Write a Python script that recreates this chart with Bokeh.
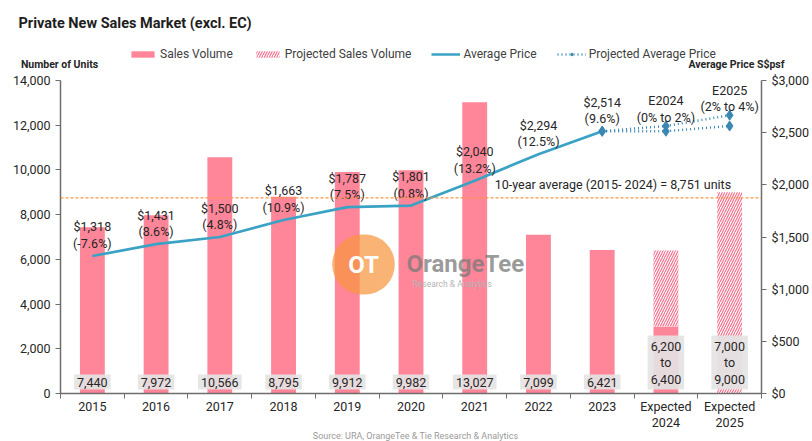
from bokeh.plotting import figure
from bokeh.layouts import column
from bokeh.models import (Range1d, LinearAxis, FixedTicker, SingleIntervalTicker,
                          NumeralTickFormatter, ColumnDataSource, Label, Span,
                          Legend, LegendItem)
from bokeh.core.properties import value
from bokeh.embed import file_html
from bokeh.resources import INLINE

# ---------------- data ----------------
categories = ["2015", "2016", "2017", "2018", "2019", "2020", "2021", "2022",
              "2023", "Expected\n2024", "Expected\n2025"]
sales_volume = [7440, 7972, 10566, 8795, 9912, 9982, 13027, 7099, 6421, 3000]  # 2024 = YTD actual (est.)
projected_low = [6200, 7000]
projected_high = [6400, 9000]
avg_price = [1318, 1431, 1500, 1663, 1787, 1801, 2040, 2294, 2514]
price_change = ["-7.6%", "8.6%", "4.8%", "10.9%", "7.5%", "0.8%", "13.2%", "12.5%", "9.6%"]
proj_price_low = [2514, 2514, 2564]
proj_price_high = [2514, 2564, 2667]
proj_names = ["E2024", "E2025"]
proj_growth = ["0% to 2%", "2% to 4%"]
ten_year_avg = 8751
vol_max = 14000
price_max = 3000
source_note = "Source: URA, OrangeTee & Tie Research & Analytics"

FONT = "Roboto"
BAR = "#ff8599"
HATCH = "#f56f8c"
LINE = "#3aa2c4"
PROJ = "#3a87b3"
TXT = "#262626"
AX = "#6e6e6e"
W = 812
NAN = float("nan")

xs = list(range(len(categories)))
n_act = len(avg_price)
proj_x = xs[len(categories) - len(projected_high):]
px = xs[n_act - 1:]


def blank(height):
    f = figure(width=W, height=height, output_backend="svg", toolbar_location=None,
               x_range=Range1d(0, W), y_range=Range1d(height, 0),
               x_axis_type=None, y_axis_type=None, min_border=0,
               outline_line_color=None, background_fill_alpha=0,
               border_fill_alpha=0)
    f.grid.visible = False
    f.frame_align = False
    return f


# ================= header: title, legend, axis titles =================
HEAD_H = 72
head = blank(HEAD_H)
head.add_layout(Label(x=18, y=23, text="Private New Sales Market (excl. EC)",
                      text_font=FONT, text_font_size="14.5px", text_font_style="bold",
                      text_color="#1e1e1e", text_baseline="middle"))
head.add_layout(Label(x=59, y=64, text="Number of Units", text_font=FONT,
                      text_font_size="10.5px", text_font_style="bold", text_color=TXT,
                      text_align="center", text_baseline="middle"))
head.add_layout(Label(x=736, y=64, text="Average Price S$psf", text_font=FONT,
                      text_font_size="10.5px", text_font_style="bold", text_color=TXT,
                      text_align="center", text_baseline="middle"))

# legend keys (renderers whose data is NaN, used only for the key)
lg_bar = head.vbar(x=[NAN], top=[NAN], width=1, fill_color=BAR, line_color=None)
lg_hatch = head.vbar(x=[NAN], top=[NAN], width=1, fill_color="white", line_color=None,
                     hatch_pattern="/", hatch_color=HATCH, hatch_scale=5, hatch_weight=1.2)
lg_line = head.line(x=[NAN], y=[NAN], line_color=LINE, line_width=2.5)
lg_pline = head.line(x=[NAN], y=[NAN], line_color=PROJ, line_width=2.5, line_dash="1 3")
lg_pmark = head.scatter(x=[NAN], y=[NAN], marker="diamond", size=9, fill_color=PROJ,
                        line_color=PROJ)
legend = Legend(items=[
    LegendItem(label="Sales Volume", renderers=[lg_bar]),
    LegendItem(label="Projected Sales Volume", renderers=[lg_hatch]),
    LegendItem(label="Average Price", renderers=[lg_line]),
    LegendItem(label="Projected Average Price", renderers=[lg_pline, lg_pmark]),
], orientation="horizontal", location=(128, 11), label_text_font=FONT,
   label_text_font_size="12px", label_text_color="#404040", glyph_width=29,
   glyph_height=8, spacing=20, padding=0, margin=0, border_line_color=None,
   background_fill_alpha=0, label_standoff=3)
head.add_layout(legend)

# ================= main chart =================
MAIN_H = 441 - HEAD_H
p = figure(width=W, height=MAIN_H, output_backend="svg", toolbar_location=None,
           x_range=Range1d(-0.5, len(categories) - 0.5),
           y_range=Range1d(0, vol_max),
           min_border_left=60, min_border_right=W - 763, min_border_top=8,
           min_border_bottom=48, background_fill_color="white",
           border_fill_color="white", outline_line_color=None)
p.frame_align = False
p.extra_y_ranges = {"price": Range1d(0, price_max)}
p.grid.visible = False

# x axis: labels at centres, ticks at boundaries
xa = p.xaxis[0]
xa.ticker = FixedTicker(ticks=xs, minor_ticks=[x - 0.5 for x in xs] + [xs[-1] + 0.5])
xa.major_label_overrides = {x: c for x, c in zip(xs, categories)}
xa.major_tick_line_color = None
xa.major_tick_out = 0
xa.major_tick_in = 0
xa.minor_tick_line_color = AX
xa.minor_tick_out = 5
xa.minor_tick_in = 0
xa.axis_line_color = AX
xa.axis_line_width = 1.5
xa.major_label_text_font = FONT
xa.major_label_text_font_size = "12.5px"
xa.major_label_text_color = TXT
xa.major_label_text_line_height = 1.1
xa.major_label_standoff = 0

ya = p.yaxis[0]
ya.ticker = SingleIntervalTicker(interval=2000, num_minor_ticks=0)
ya.formatter = NumeralTickFormatter(format="0,0")
ya.axis_line_color = AX
ya.axis_line_width = 1.5
ya.major_tick_line_color = AX
ya.major_tick_out = 5
ya.major_tick_in = 0
ya.minor_tick_line_color = None
ya.major_label_text_font = FONT
ya.major_label_text_font_size = "12.5px"
ya.major_label_text_color = TXT

ra = LinearAxis(y_range_name="price",
                ticker=SingleIntervalTicker(interval=500, num_minor_ticks=0),
                formatter=NumeralTickFormatter(format="$0,0"))
ra.axis_line_color = AX
ra.axis_line_width = 1.5
ra.major_tick_line_color = AX
ra.major_tick_out = 5
ra.major_tick_in = 0
ra.minor_tick_line_color = None
ra.major_label_text_font = FONT
ra.major_label_text_font_size = "12.5px"
ra.major_label_text_color = TXT
p.add_layout(ra, "right")

# ---------------- bars ----------------
p.vbar(x=xs[:len(sales_volume)], top=sales_volume, width=0.39,
       fill_color=BAR, line_color=None)
proj_bottom = [sales_volume[x] if x < len(sales_volume) else 0 for x in proj_x]
p.vbar(x=proj_x, bottom=proj_bottom, top=projected_high, width=0.39,
       fill_color="white", line_color=None, hatch_pattern="/",
       hatch_color=HATCH, hatch_scale=5, hatch_weight=1.2)

# 10-year average
p.add_layout(Span(location=ten_year_avg, dimension="width", line_color="#f79646",
                  line_dash="3 2", line_width=1.3))
p.add_layout(Label(x=6, y=ten_year_avg, x_offset=20, y_offset=6,
                   text=f"10-year average (2015- 2024) = {ten_year_avg:,} units",
                   text_font=FONT, text_font_size="12.5px", text_color=TXT,
                   text_baseline="bottom", text_align="left"))

# ---------------- price lines ----------------
p.line(xs[:n_act], avg_price, y_range_name="price", line_color=LINE, line_width=2.7)
for ys in (proj_price_low, proj_price_high):
    p.line(px, ys, y_range_name="price", line_color=PROJ, line_width=2.5,
           line_dash="1 3")
    p.scatter(px, ys, y_range_name="price", marker="diamond", size=10,
              fill_color=PROJ, line_color=PROJ)

# price labels
price_src = ColumnDataSource(dict(
    x=xs[:n_act], y=avg_price,
    t=[f"${v:,}\n({c})" for v, c in zip(avg_price, price_change)]))
p.text(x="x", y="y", text="t", source=price_src, y_range_name="price",
       text_font=value(FONT), text_font_size="12.5px", text_color=TXT,
       text_align="center", text_baseline="bottom", y_offset=-5,
       text_line_height=1.1)
proj_src = ColumnDataSource(dict(
    x=proj_x, y=proj_price_high[1:],
    t=[f"{n}\n({g})" for n, g in zip(proj_names, proj_growth)]))
p.text(x="x", y="y", text="t", source=proj_src, y_range_name="price",
       text_font=value(FONT), text_font_size="12.5px", text_color=TXT,
       text_align="center", text_baseline="bottom", y_offset=-1,
       text_line_height=1.1)

# volume labels
vol_src = ColumnDataSource(dict(
    x=xs[:n_act] + proj_x,
    y=[0] * (n_act + len(proj_x)),
    t=[f"{v:,}" for v in sales_volume[:n_act]] +
      [f"{lo:,}\nto\n{hi:,}" for lo, hi in zip(projected_low, projected_high)]))
p.text(x="x", y="y", text="t", source=vol_src,
       text_font=value(FONT), text_font_size="12.5px", text_color=TXT,
       text_align="center", text_baseline="bottom", y_offset=-4,
       text_line_height=1.1,
       background_fill_color="#e3e3e3", background_fill_alpha=0.9, padding=3)

# watermark
p.add_layout(Label(x=303, y=129, x_units="screen", y_units="screen", text="OT",
                   text_font=FONT, text_font_size="24px", text_font_style="bold",
                   text_color="white", text_align="center", text_baseline="middle",
                   background_fill_color="#f7953f", background_fill_alpha=0.72,
                   padding=16, border_radius=32))
p.add_layout(Label(x=346, y=130, x_units="screen", y_units="screen", text="OrangeTee",
                   text_font=FONT, text_font_size="24px", text_font_style="bold",
                   text_color="#7a7a7a", text_alpha=0.75, text_baseline="middle"))
p.add_layout(Label(x=352, y=110, x_units="screen", y_units="screen",
                   text="Research & Analytics", text_font=FONT, text_font_size="8.5px",
                   text_color="#b4b4b4", text_baseline="middle"))

# ================= footer: source (overlaid on the bottom strip) =================
FOOT_H = 14
foot = blank(FOOT_H)
foot.margin = (-FOOT_H, 0, 0, 0)
foot.add_layout(Label(x=415, y=FOOT_H / 2 + 1, text=source_note, text_font=FONT,
                      text_font_size="9px", text_color="#9a9a9a", text_align="center",
                      text_baseline="middle"))

layout = column(head, p, foot, spacing=0)
open("out.html", "w").write(file_html(layout, INLINE))
